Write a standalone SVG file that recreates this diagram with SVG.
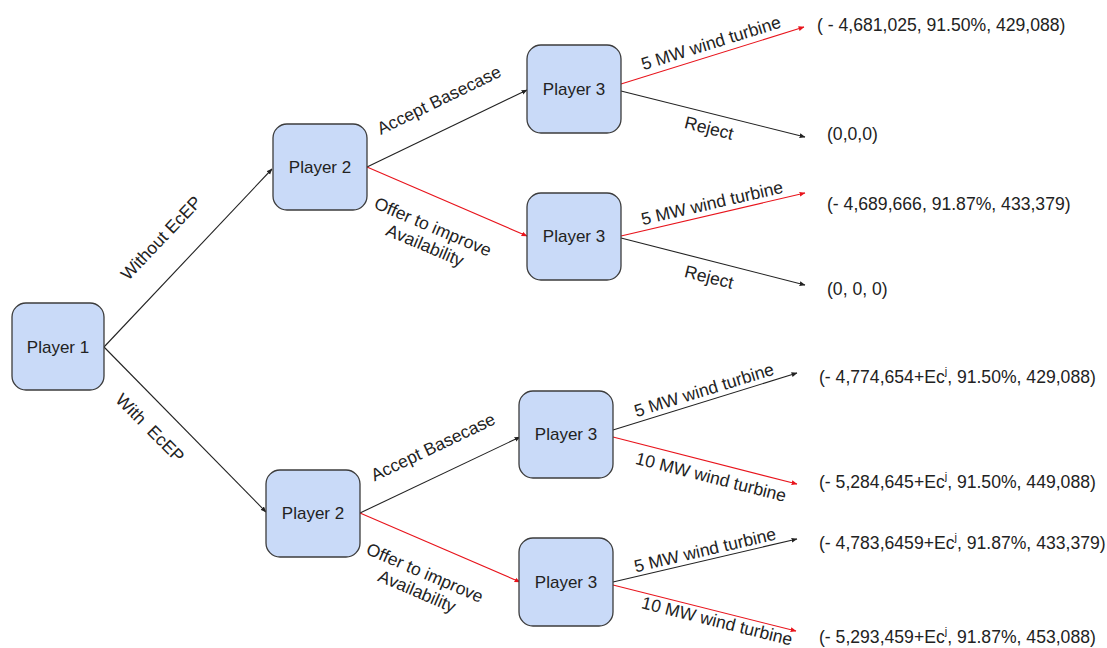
<svg xmlns="http://www.w3.org/2000/svg" width="1107" height="648" viewBox="0 0 1107 648">
<style>
.node rect{fill:#c9daf8;stroke:#3c3c3c;stroke-width:1.3}
text{font-family:"Liberation Sans",Arial,sans-serif;font-size:17.5px;fill:#222}
.nt{text-anchor:middle;font-size:17px}
.lb{text-anchor:middle}
.pay{font-size:17.6px}
.k{stroke:#222;stroke-width:1.1;fill:none}
.r{stroke:#e8141c;stroke-width:1.1;fill:none}
</style>
<defs>
<marker id="ak" viewBox="0 0 10 10" refX="9" refY="5" markerWidth="6" markerHeight="6" markerUnits="userSpaceOnUse" orient="auto"><path d="M0,1 L10,5 L0,9 z" fill="#222"/></marker>
<marker id="ar" viewBox="0 0 10 10" refX="9" refY="5" markerWidth="6" markerHeight="6" markerUnits="userSpaceOnUse" orient="auto"><path d="M0,1 L10,5 L0,9 z" fill="#e8141c"/></marker>
</defs>
<rect width="1107" height="648" fill="#ffffff"/>
<g id="connectors">
<line class="k" x1="104" y1="347" x2="272" y2="169" marker-end="url(#ak)"/>
<line class="k" x1="104" y1="347" x2="266" y2="512" marker-end="url(#ak)"/>
<line class="k" x1="367" y1="167" x2="527" y2="90" marker-end="url(#ak)"/>
<line class="r" x1="367" y1="167" x2="527" y2="236" marker-end="url(#ar)"/>
<line class="r" x1="621" y1="84" x2="804" y2="27" marker-end="url(#ar)"/>
<line class="k" x1="621" y1="91" x2="805" y2="137" marker-end="url(#ak)"/>
<line class="r" x1="621" y1="236" x2="805" y2="193" marker-end="url(#ar)"/>
<line class="k" x1="621" y1="238" x2="805" y2="285" marker-end="url(#ak)"/>
<line class="k" x1="360" y1="513" x2="520" y2="437" marker-end="url(#ak)"/>
<line class="r" x1="360" y1="513" x2="520" y2="582" marker-end="url(#ar)"/>
<line class="k" x1="613" y1="430" x2="797" y2="373" marker-end="url(#ak)"/>
<line class="r" x1="613" y1="437" x2="797" y2="484" marker-end="url(#ar)"/>
<line class="k" x1="613" y1="582" x2="797" y2="539" marker-end="url(#ak)"/>
<line class="r" x1="613" y1="585" x2="796" y2="631" marker-end="url(#ar)"/>
<text class="lb" transform="translate(161,238) rotate(-46.5)" y="6">Without EcEP</text>
<text class="lb" transform="translate(150,428) rotate(45.2)" y="6" style="white-space:pre">With  EcEP</text>
<text class="lb" transform="translate(439,100) rotate(-26)" y="6">Accept Basecase</text>
<text class="lb" transform="translate(429,236) rotate(23)"><tspan x="0" y="-4">Offer to improve</tspan><tspan x="0" y="16">Availability</tspan></text>
<text class="lb" transform="translate(711,43) rotate(-17.3)" y="6">5 MW wind turbine</text>
<text class="lb" transform="translate(709,128) rotate(14)" y="6">Reject</text>
<text class="lb" transform="translate(712,203) rotate(-13)" y="6">5 MW wind turbine</text>
<text class="lb" transform="translate(709,277) rotate(14)" y="6">Reject</text>
<text class="lb" transform="translate(433,447) rotate(-25.4)" y="6">Accept Basecase</text>
<text class="lb" transform="translate(421,582) rotate(23.3)"><tspan x="0" y="-4">Offer to improve</tspan><tspan x="0" y="16">Availability</tspan></text>
<text class="lb" transform="translate(704,390) rotate(-17.2)" y="6">5 MW wind turbine</text>
<text class="lb" transform="translate(711,477) rotate(14.3)" y="6">10 MW wind turbine</text>
<text class="lb" transform="translate(705,550) rotate(-13.2)" y="6">5 MW wind turbine</text>
<text class="lb" transform="translate(717,621) rotate(14)" y="6">10 MW wind turbine</text>
</g>
<g id="player1" class="node"><rect x="12" y="303" width="92" height="87" rx="14"/><text class="nt" x="58" y="353">Player 1</text></g>
<g id="player2a" class="node"><rect x="273" y="124" width="94" height="86" rx="14"/><text class="nt" x="320" y="173">Player 2</text></g>
<g id="player2b" class="node"><rect x="266" y="470" width="94" height="87" rx="14"/><text class="nt" x="313" y="519">Player 2</text></g>
<g id="player3a" class="node"><rect x="527" y="45" width="94" height="88" rx="14"/><text class="nt" x="574" y="95">Player 3</text></g>
<g id="player3b" class="node"><rect x="527" y="193" width="94" height="87" rx="14"/><text class="nt" x="574" y="242">Player 3</text></g>
<g id="player3c" class="node"><rect x="519" y="391" width="94" height="87" rx="14"/><text class="nt" x="566" y="440">Player 3</text></g>
<g id="player3d" class="node"><rect x="519" y="538" width="94" height="88" rx="14"/><text class="nt" x="566" y="588">Player 3</text></g>
<g id="payoffs">
<text class="pay" x="817" y="31">( - 4,681,025, 91.50%, 429,088)</text>
<text class="pay" x="827" y="140">(0,0,0)</text>
<text class="pay" x="827" y="210">(- 4,689,666, 91.87%, 433,379)</text>
<text class="pay" x="827" y="295">(0, 0, 0)</text>
<text class="pay" x="819" y="383">(- 4,774,654+Ec<tspan dy="-8" font-size="11">j</tspan><tspan dy="8">, 91.50%, 429,088)</tspan></text>
<text class="pay" x="819" y="488">(- 5,284,645+Ec<tspan dy="-8" font-size="11">j</tspan><tspan dy="8">, 91.50%, 449,088)</tspan></text>
<text class="pay" x="819" y="549">(- 4,783,6459+Ec<tspan dy="-8" font-size="11">j</tspan><tspan dy="8">, 91.87%, 433,379)</tspan></text>
<text class="pay" x="819" y="643">(- 5,293,459+Ec<tspan dy="-8" font-size="11">j</tspan><tspan dy="8">, 91.87%, 453,088)</tspan></text>
</g>
</svg>
